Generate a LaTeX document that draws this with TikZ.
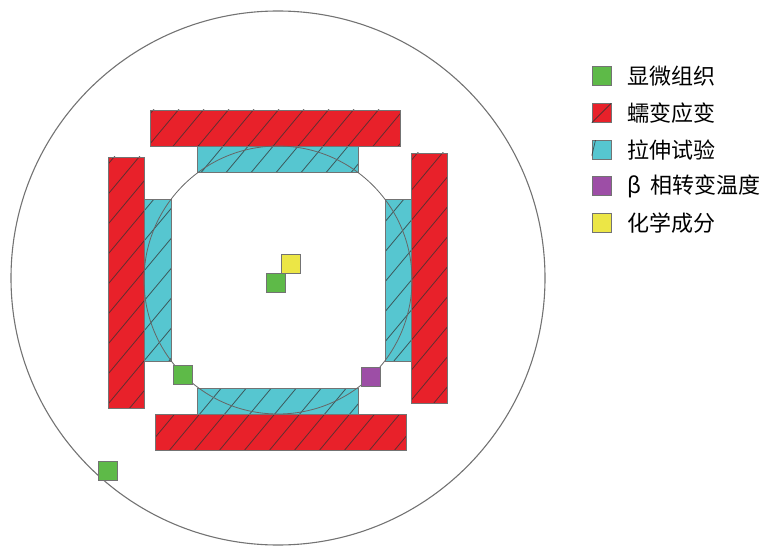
\documentclass[tikz,border=0pt]{standalone}
\usepackage{fontspec}
\newfontfamily\cjk{Noto Sans CJK SC}
\usetikzlibrary{positioning}

\definecolor{creepred}{RGB}{232,33,42}
\definecolor{tensilecyan}{RGB}{86,198,208}
\definecolor{microgreen}{RGB}{94,186,72}
\definecolor{chemyellow}{RGB}{236,230,70}
\definecolor{betapurple}{RGB}{157,78,166}

% hatched box: style, lower corner, upper corner
\newcommand\hatchbox[3]{%
  \fill[#1] #2 rectangle #3;
  \begin{scope}
    \clip #2 rectangle #3;
    \foreach \k in {-447,-422,...,480}
      \draw[hatch] (\k,500) -- ++(417,-500);
  \end{scope}
  \draw[boxline] #2 rectangle #3;}

\begin{document}
\begin{tikzpicture}[x=1pt,y=-1pt,
  hatch/.style={black!80,opacity=.75,line width=.8pt},
  boxline/.style={draw=black!55,line width=.6pt},
  sq/.style={draw=black!55,line width=.6pt,minimum size=19pt,inner sep=0pt},
  lbl/.style={font=\cjk\fontsize{22}{24}\selectfont,inner sep=0pt,anchor=west}]
\useasboundingbox (0,0) rectangle (765,548);

% specimen outline
\draw[black!55,line width=1.1pt] (278,278) circle[radius=267];

% creep strain bars
\hatchbox{fill=creepred}{(150,110)}{(400,146)}
\hatchbox{fill=creepred}{(155,414)}{(406,450)}
\hatchbox{fill=creepred}{(108,157)}{(144,408)}
\hatchbox{fill=creepred}{(411,153)}{(447,403)}

% tensile test bars
\hatchbox{fill=tensilecyan}{(197,146)}{(358,172)}
\hatchbox{fill=tensilecyan}{(197,388)}{(358,414)}
\hatchbox{fill=tensilecyan}{(144,199)}{(171,361)}
\hatchbox{fill=tensilecyan}{(385,199)}{(411,361)}

% forging section
\draw[black!60,line width=.8pt] (278,280) circle[radius=134];

% sample squares
\node[sq,fill=microgreen] (mcA) at (275.5,282.5) {};
\node[sq,fill=chemyellow] (chA) at (290.5,263.5) {};
\node[sq,fill=microgreen] (mcB) at (183,375) {};
\node[sq,fill=betapurple] (btA) at (370.5,377) {};
\node[sq,fill=microgreen] (mcC) at (107.5,470.5) {};

% legend
\node[sq,fill=microgreen] (keyA) at (601.5,76) {};
\node[sq,fill=creepred] (keyB) at (601.5,113) {};
\node[sq,fill=tensilecyan] (keyC) at (601.5,150) {};
\node[sq,fill=betapurple] (keyD) at (601.5,186) {};
\node[sq,fill=chemyellow] (keyE) at (601.5,223) {};
\begin{scope}
  \clip (keyB.south west) rectangle (keyB.north east);
  \draw[hatch] (keyB.south west) -- (keyB.north east);
\end{scope}
\begin{scope}
  \clip (keyC.south west) rectangle (keyC.north east);
  \draw[hatch] ([xshift=-6pt]keyC.north) -- ([yshift=-6pt]keyC.west);
\end{scope}
\node[lbl,right=16pt of keyA] (txtA) {显微组织};
\node[lbl,right=16pt of keyB] (txtB) {蠕变应变};
\node[lbl,right=16pt of keyC] (txtC) {拉伸试验};
\node[lbl,right=16pt of keyD] (txtD) {β\hspace{9pt}相转变温度};
\node[lbl,right=16pt of keyE] (txtE) {化学成分};
\end{tikzpicture}
\end{document}
